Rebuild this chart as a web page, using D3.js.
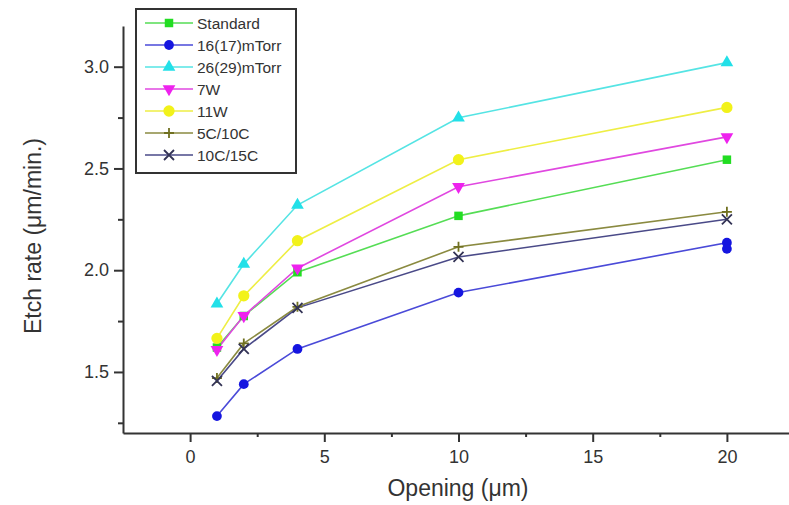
<!DOCTYPE html>
<html lang="en">
<head>
<meta charset="UTF-8" />
<script src="https://d3js.org/d3.v7.min.js"></script>
<title>Etch rate</title>
<style>
  body { margin: 0; background: #fff; }
  svg text { font-family: "Liberation Sans", Arial, sans-serif; fill: #333; }
  .tick text { font-size: 18px; }
  .axis path, .axis line { stroke: #333; stroke-width: 2; }
</style>
</head>
<body>
<svg id="chart" width="789" height="505"></svg>
<script>
// data
const openings = [1, 2, 4, 10, 20];
const openingsBlue = [1, 2, 4, 10, 20, 20];
const standard = [1.62, 1.775, 1.99, 2.267, 2.543];
const mTorr16 = [1.283, 1.44, 1.613, 1.89, 2.135, 2.105];
const mTorr26 = [1.835, 2.03, 2.32, 2.749, 3.02];
const w7 = [1.61, 1.776, 2.01, 2.41, 2.655];
const w11 = [1.665, 1.874, 2.145, 2.543, 2.80];
const c5c10 = [1.47, 1.64, 1.82, 2.115, 2.287];
const c10c15 = [1.456, 1.613, 1.815, 2.065, 2.25];
const seriesNames = ['Standard', '16(17)mTorr', '26(29)mTorr', '7W', '11W', '5C/10C', '10C/15C'];
const yMajor = [1.5, 2.0, 2.5, 3.0];
const yMinor = [1.25, 1.75, 2.25, 2.75];
const xMajor = [0, 5, 10, 15, 20];
const xMinor = [2.5, 7.5, 12.5, 17.5];

const series = [
  { name: seriesNames[0], xs: openings, ys: standard, line: '#55dd55', fill: '#22dd22', sym: 'square' },
  { name: seriesNames[1], xs: openingsBlue, ys: mTorr16, line: '#4a4ad8', fill: '#1515e0', sym: 'circle' },
  { name: seriesNames[2], xs: openings, ys: mTorr26, line: '#55e4e4', fill: '#22e0e8', sym: 'up' },
  { name: seriesNames[4], xs: openings, ys: w11, line: '#eeee44', fill: '#f2f21a', sym: 'dot' },
  { name: seriesNames[5], xs: openings, ys: c5c10, line: '#8a8a40', fill: '#707020', sym: 'plus' },
  { name: seriesNames[6], xs: openings, ys: c10c15, line: '#4a4a88', fill: '#333355', sym: 'cross' },
  { name: seriesNames[3], xs: openings, ys: w7, line: '#e048e0', fill: '#ee22ee', sym: 'down' }
];
const legendOrder = [0, 1, 2, 6, 3, 4, 5];

const svg = d3.select('#chart');

const x = d3.scaleLinear().domain([-2.5, 22.5]).range([123, 794]);
const y = d3.scaleLinear().domain([1.2, 3.2]).range([433, 26]);

// axes
const yAxisG = svg.append('g').attr('class', 'axis').attr('transform', 'translate(123,0)')
  .call(d3.axisLeft(y).tickValues(yMajor).tickSize(9).tickSizeOuter(0).tickPadding(5).tickFormat(d3.format('.1f')));
svg.append('g').attr('class', 'axis').attr('transform', 'translate(123,0)')
  .call(d3.axisLeft(y).tickValues(yMinor).tickSize(5).tickSizeOuter(0).tickFormat(''))
  .select('.domain').remove();

svg.append('g').attr('class', 'axis').attr('transform', 'translate(0,433)')
  .call(d3.axisBottom(x).tickValues(xMajor).tickSize(9).tickSizeOuter(0).tickPadding(8));
svg.append('g').attr('class', 'axis').attr('transform', 'translate(0,433)')
  .call(d3.axisBottom(x).tickValues(xMinor).tickSize(4).tickSizeOuter(0).tickFormat(''))
  .select('.domain').remove();

svg.append('text')
  .attr('transform', 'translate(41,236) rotate(-90)')
  .attr('text-anchor', 'middle')
  .style('font-size', '23px')
  .text('Etch rate (\u03bcm/min.)');

svg.append('text')
  .attr('x', 458).attr('y', 496)
  .attr('text-anchor', 'middle')
  .style('font-size', '23px')
  .text('Opening (\u03bcm)');

// markers
const drawMarker = (sel, s) => {
  if (s.sym === 'plus' || s.sym === 'cross') {
    const k = 5;
    const p = s.sym === 'plus'
      ? `M${-k},0H${k}M0,${-k}V${k}`
      : `M${-k},${-k}L${k},${k}M${-k},${k}L${k},${-k}`;
    sel.append('path').attr('d', p).attr('stroke', s.fill).attr('stroke-width', 1.8).attr('fill', 'none');
    return;
  }
  const types = { square: [d3.symbolSquare, 72], circle: [d3.symbolCircle, 75], dot: [d3.symbolCircle, 100],
                  up: [d3.symbolTriangle, 70], down: [d3.symbolTriangle, 70] };
  const t = types[s.sym];
  sel.append('path')
    .attr('d', d3.symbol(t[0], t[1])())
    .attr('transform', s.sym === 'down' ? 'rotate(180)' : null)
    .attr('fill', s.fill);
};

const line = d3.line().x(d => x(d[0])).y(d => y(d[1]));

series.forEach(s => {
  const pts = s.xs.map((v, i) => [v, s.ys[i]]);
  svg.append('path').datum(pts)
    .attr('d', line)
    .attr('fill', 'none')
    .attr('stroke', s.line)
    .attr('stroke-width', 1.6);
});
series.forEach(s => {
  const pts = s.xs.map((v, i) => [v, s.ys[i]]);
  svg.append('g').selectAll('g').data(pts).enter().append('g')
    .attr('transform', d => `translate(${x(d[0])},${y(d[1])})`)
    .each(function () { drawMarker(d3.select(this), s); });
});

// legend
const legend = svg.append('g');
legend.append('rect')
  .attr('x', 136).attr('y', 9).attr('width', 160).attr('height', 164)
  .attr('fill', '#fff').attr('stroke', '#333').attr('stroke-width', 2);

legendOrder.forEach((idx, i) => {
  const s = series[idx];
  const ly = 23 + i * 22;
  legend.append('line')
    .attr('x1', 145).attr('x2', 193).attr('y1', ly).attr('y2', ly)
    .attr('stroke', s.line).attr('stroke-width', 1.6);
  const m = legend.append('g').attr('transform', `translate(169,${ly})`);
  drawMarker(m, s);
  legend.append('text')
    .attr('x', 197).attr('y', ly + 5.5)
    .style('font-size', '15.5px')
    .text(s.name);
});
</script>
</body>
</html>
